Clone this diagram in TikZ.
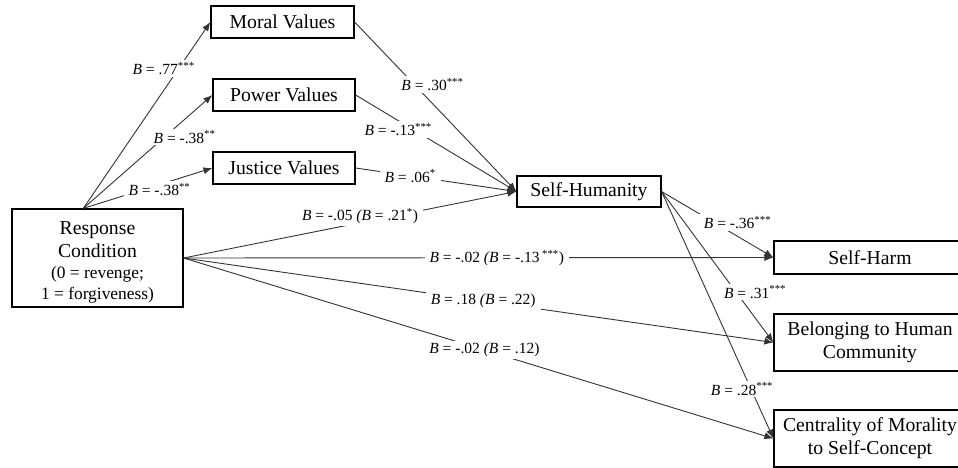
\documentclass[tikz,border=0pt]{standalone}
\usepackage{fontspec}
\setmainfont{Liberation Serif}
\usetikzlibrary{arrows.meta}

\newcommand{\coef}[2]{\textit{B} = #1\textsuperscript{#2}}
\newcommand{\subfont}{\fontsize{17.4}{20.5}\selectfont}

\begin{document}
\begin{tikzpicture}[
    x=1pt, y=-1pt,
    box/.style={draw, line width=1.2pt, align=center, inner sep=0pt,
        font=\fontsize{19.7}{23.3}\selectfont},
    arr/.style={draw=black!80, line width=0.9pt, -{Latex[length=9pt, width=7pt]}},
    lbl/.style={fill=white, inner xsep=5pt, inner ysep=2pt,
        font=\fontsize{15.5}{17}\selectfont}
]
    \useasboundingbox (0,0) rectangle (958,468);

    % Nodes
    \node[box, minimum width=171pt, minimum height=98pt] (resp) at (97.5,258)
        {\rule{0pt}{21pt}Response\\Condition\\[-2pt]{\subfont (0 = revenge;}\\[-3pt]{\subfont 1 = forgiveness)}};
    \node[box, minimum width=143pt, minimum height=32pt] (moral) at (282.5,22) {Moral Values};
    \node[box, minimum width=142pt, minimum height=32pt] (power) at (284,95) {Power Values};
    \node[box, minimum width=142pt, minimum height=32pt] (justice) at (284,168) {Justice Values};
    \node[box, minimum width=144pt, minimum height=31pt] (sh) at (589,191.5) {Self-Humanity};
    \node[box, minimum width=192pt, minimum height=33pt] (harm) at (870,257.5) {Self-Harm};
    \node[box, minimum width=192pt, minimum height=57pt] (belong) at (870,342.5)
        {Belonging to Human\\Community};
    \node[box, minimum width=192pt, minimum height=57pt] (central) at (870,438.5)
        {Centrality of Morality\\to Self-Concept};

    % Condition -> values
    \draw[arr] (resp.106) -- node[lbl, pos=.75, xshift=-15pt] (l1) {\coef{.77}{***}} (moral.west);
    \draw[arr] (resp.106) -- node[lbl, pos=.63, xshift=20pt] (l2) {\coef{-.38}{**}} (power.west);
    \draw[arr] (resp.106) -- node[lbl, pos=.59, yshift=-5pt] (l3) {\coef{-.38}{**}} (justice.west);

    % Values -> self-humanity
    \draw[arr] (moral.east) -- node[lbl, pos=.37, xshift=18pt] (l4) {\coef{.30}{***}} (sh.west);
    \draw[arr] (power.east) -- node[lbl, pos=.265, yshift=-9pt] (l5) {\coef{-.13}{***}} (sh.west);
    \draw[arr] (justice.east) -- node[lbl, pos=.34] (l6) {\coef{.06}{*}} (sh.west);
    \draw[arr] (resp.east) -- node[lbl, pos=.53, yshift=7pt] (l7)
        {\textit{B} = -.05 \textit{(B} = .21\textsuperscript{*})} (sh.west);

    % Condition -> outcomes
    \draw[arr] (resp.east) -- node[lbl, pos=.531] (l8)
        {\textit{B} = -.02 \textit{(B} = -.13\,\textsuperscript{***})} (harm.west);
    \draw[arr] (resp.east) -- node[lbl, pos=.508] (l9)
        {\textit{B} = .18 \textit{(B} = .22)} (belong.west);
    \draw[arr] (resp.east) -- node[lbl, pos=.51] (l10)
        {\textit{B} = -.02 \textit{(B} = .12)} (central.west);

    % Self-humanity -> outcomes
    \draw[arr] (sh.east) -- node[lbl, pos=.68, yshift=14pt] (l11) {\coef{-.36}{***}} (harm.west);
    \draw[arr] (sh.east) -- node[lbl, pos=.666, xshift=19pt] (l12) {\coef{.31}{***}} (belong.west);
    \draw[arr] (sh.east) -- node[lbl, pos=.80, xshift=-9pt] (l13) {\coef{.28}{***}} (central.west);
\end{tikzpicture}
\end{document}
